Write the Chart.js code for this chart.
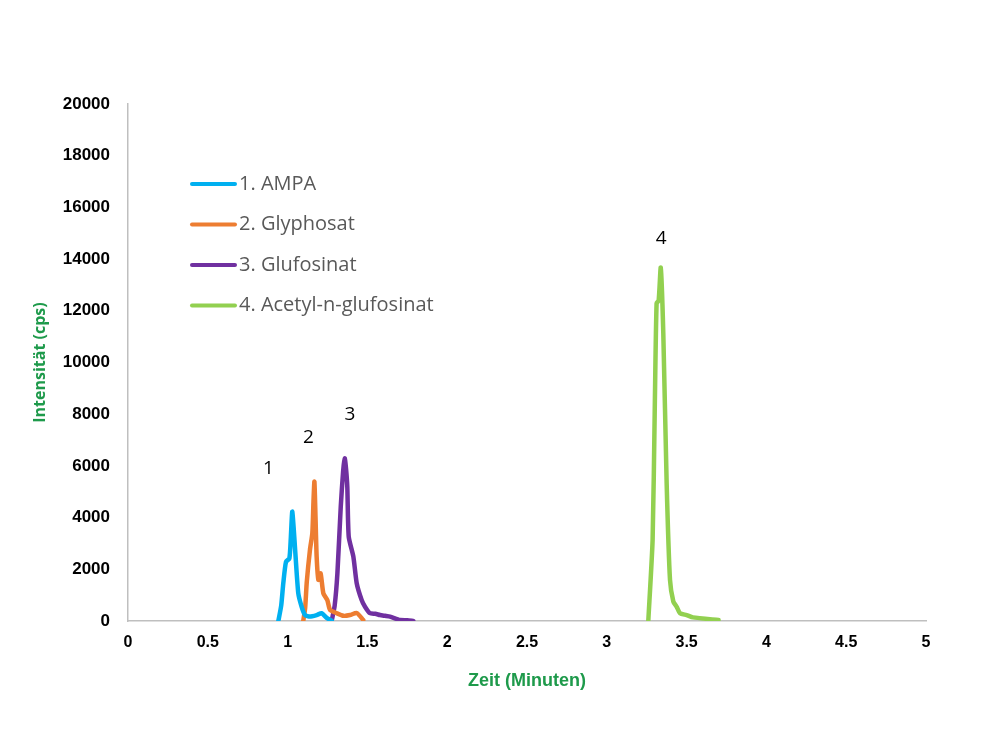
<!DOCTYPE html>
<html>
<head>
<meta charset="utf-8">
<script src="https://cdn.jsdelivr.net/npm/chart.js@4.4.1/dist/chart.umd.min.js"></script>
<style>
  html, body { margin: 0; padding: 0; background: #fff; }
  #wrap { width: 1000px; height: 750px; }
</style>
</head>
<body>
<div id="wrap"><canvas id="chromChart" width="1000" height="750"></canvas></div>
<script>
// retention time (min) / intensity (cps)
const seriesNames = ['1. AMPA', '2. Glyphosat', '3. Glufosinat', '4. Acetyl-n-glufosinat'];
const seriesColors = ['#00B0F0', '#ED7D31', '#7030A0', '#92D050'];
const peakLabels = ['1', '2', '3', '4'];

const ampaTime = [0.942, 0.96, 0.973, 0.99, 1.011, 1.02, 1.029, 1.038, 1.046, 1.067, 1.088, 1.109, 1.14, 1.182, 1.213, 1.245, 1.276];
const ampaInt  = [0, 600, 1460, 2290, 2420, 3200, 4230, 3600, 2870, 1070, 550, 230, 170, 230, 300, 120, 10];

const glyTime = [1.098, 1.11, 1.12, 1.14, 1.155, 1.162, 1.168, 1.175, 1.182, 1.193, 1.207, 1.224, 1.249, 1.266, 1.308, 1.35, 1.391, 1.433, 1.474];
const glyInt  = [0, 500, 1500, 2750, 3400, 4600, 5390, 4000, 2490, 1590, 1840, 1070, 810, 430, 300, 200, 230, 310, 40];

const glufTime = [1.276, 1.295, 1.312, 1.333, 1.348, 1.358, 1.366, 1.374, 1.383, 1.412, 1.433, 1.464, 1.485, 1.516, 1.55, 1.579, 1.61, 1.642, 1.704, 1.75, 1.788];
const glufInt  = [0, 600, 1840, 4420, 5800, 6290, 5900, 5200, 3260, 2490, 1460, 810, 550, 300, 280, 230, 200, 170, 40, 30, 0];

const acetTime = [3.26, 3.287, 3.30, 3.312, 3.325, 3.338, 3.354, 3.375, 3.396, 3.417, 3.438, 3.459, 3.50, 3.54, 3.70];
const acetInt  = [0, 3130, 8000, 12290, 12400, 13670, 11130, 5330, 1590, 750, 550, 300, 230, 140, 40];

// label positions for the peak numbers
const peakLabelX = [0.88, 1.13, 1.39, 3.34];
const peakLabelY = [5900, 7100, 8000, 14800];

const xTicks = [0, 0.5, 1, 1.5, 2, 2.5, 3, 3.5, 4, 4.5, 5];
const yMax = 20000;

const times = [ampaTime, glyTime, glufTime, acetTime];
const ints = [ampaInt, glyInt, glufInt, acetInt];

const datasets = seriesNames.map((name, i) => ({
  label: name,
  data: times[i].map((t, k) => ({ x: t, y: ints[i][k] })),
  borderColor: seriesColors[i],
  backgroundColor: seriesColors[i],
  borderWidth: 4.5,
  borderJoinStyle: 'round',
  borderCapStyle: 'round',
  pointRadius: 0,
  tension: 0.2,
  fill: false
}));

// legend drawn inside the plot area like the original
const insideLegend = {
  id: 'insideLegend',
  afterDraw(chart) {
    const ctx = chart.ctx;
    ctx.save();
    ctx.font = '20px "Open Sans", sans-serif';
    ctx.textBaseline = 'middle';
    chart.data.datasets.forEach((ds, i) => {
      const y = 184 + i * 40.5;
      ctx.strokeStyle = ds.borderColor;
      ctx.lineWidth = 4;
      ctx.lineCap = 'round';
      ctx.beginPath();
      ctx.moveTo(192, y);
      ctx.lineTo(235, y);
      ctx.stroke();
      ctx.fillStyle = '#595959';
      ctx.fillText(ds.label, 239, y);
    });
    ctx.restore();
  }
};

const peakText = {
  id: 'peakText',
  afterDraw(chart) {
    const ctx = chart.ctx;
    const xs = chart.scales.x, ys = chart.scales.y;
    ctx.save();
    ctx.font = '19px "Open Sans", sans-serif';
    ctx.fillStyle = '#000';
    ctx.textAlign = 'center';
    ctx.textBaseline = 'middle';
    peakLabels.forEach((t, i) => {
      ctx.fillText(t, xs.getPixelForValue(peakLabelX[i]), ys.getPixelForValue(peakLabelY[i]));
    });
    ctx.restore();
  }
};

new Chart(document.getElementById('chromChart'), {
  type: 'line',
  data: { datasets },
  plugins: [insideLegend, peakText],
  options: {
    responsive: false,
    animation: false,
    layout: { padding: { top: 104, right: 74, left: 0, bottom: 0 } },
    plugins: { legend: { display: false }, tooltip: { enabled: false } },
    scales: {
      x: {
        type: 'linear',
        min: 0, max: 5,
        afterBuildTicks: (s) => { s.ticks = xTicks.map(v => ({ value: v })); },
        afterFit: (s) => { s.height = 129; },
        grid: { display: false, drawTicks: false },
        border: { color: '#BFBFBF', width: 1.5 },
        ticks: {
          padding: 12,
          color: '#000',
          font: { family: '"Liberation Sans Narrow", "Liberation Sans", sans-serif', size: 16, weight: 'bold' },
          callback: (v) => String(v)
        },
        title: {
          display: true,
          text: 'Zeit (Minuten)',
          color: '#1E9A4B',
          font: { family: '"Liberation Sans Narrow", "Liberation Sans", sans-serif', size: 18, weight: 'bold' },
          padding: { top: 0, bottom: 58 }
        }
      },
      y: {
        min: 0, max: yMax,
        ticks: {
          stepSize: 2000,
          padding: 18,
          color: '#000',
          font: { family: '"Liberation Sans", sans-serif', size: 17, weight: 'bold' },
          callback: (v) => String(v)
        },
        afterFit: (s) => { s.width = 128; },
        grid: { display: false, drawTicks: false },
        border: { color: '#BFBFBF', width: 1.5 },
        title: {
          display: true,
          text: 'Intensität (cps)',
          color: '#1E9A4B',
          font: { family: '"Open Sans", sans-serif', size: 16, weight: 'bold' },
          padding: { top: 31, bottom: 0 }
        }
      }
    }
  }
});
</script>
</body>
</html>
